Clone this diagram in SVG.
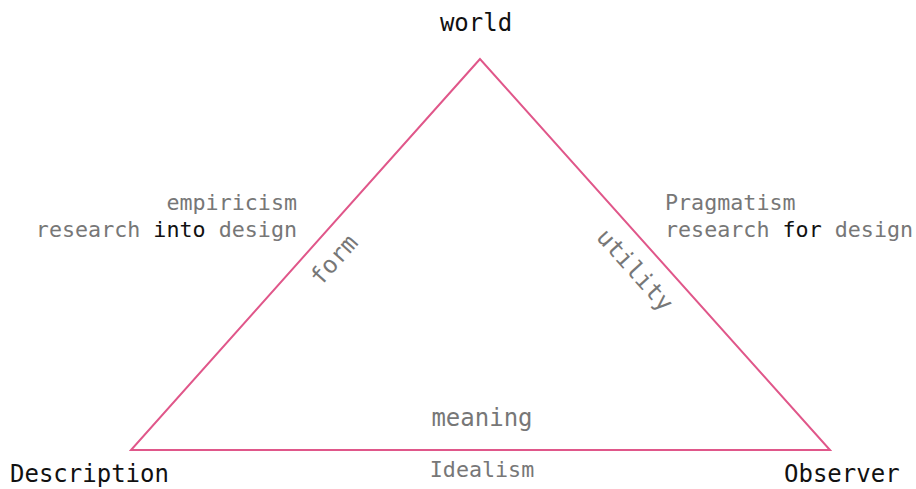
<svg xmlns="http://www.w3.org/2000/svg" width="916" height="489" viewBox="0 0 916 489">
<style>
text{font-family:"DejaVu Sans Mono","Liberation Mono",monospace;}
.n{font-size:24px;fill:#111;}
.g{font-size:21.7px;fill:#777;}
.b{fill:#111;}
.e{font-size:24px;fill:#777;}
</style>
<rect width="916" height="489" fill="#fff"/>
<g id="connectors">
<polygon points="480,59 131,450 830,450" fill="none" stroke="#e0578a" stroke-width="2"/>
</g>
<g id="world"><text class="n" x="476" y="31" text-anchor="middle">world</text></g>
<g id="description"><text class="n" x="10" y="482">Description</text></g>
<g id="observer"><text class="n" x="784" y="482">Observer</text></g>
<g id="empiricism">
<text class="g" x="297" y="210" text-anchor="end">empiricism</text>
<text class="g" x="297" y="237" text-anchor="end">research <tspan class="b">into</tspan> design</text>
</g>
<g id="pragmatism">
<text class="g" x="665" y="210">Pragmatism</text>
<text class="g" x="665" y="237">research <tspan class="b">for</tspan> design</text>
</g>
<g id="idealism"><text class="g" x="482" y="477" text-anchor="middle">Idealism</text></g>
<g id="edge-labels">
<text class="e" transform="translate(334,260) rotate(-48.2)" text-anchor="middle" dy="8">form</text>
<text class="e" transform="translate(635,270) rotate(48.2)" text-anchor="middle" dy="8">utility</text>
<text class="e" x="482" y="426" text-anchor="middle">meaning</text>
</g>
</svg>
